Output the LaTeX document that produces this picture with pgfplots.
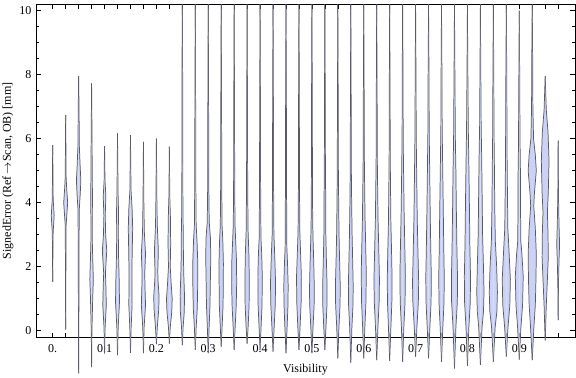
\documentclass[border=0pt]{standalone}
\usepackage{pgfplots}
\pgfplotsset{compat=1.18}
\usepackage{fontspec}
\setmainfont{Liberation Serif}
\definecolor{vfill}{RGB}{203,210,245}
\definecolor{vedge}{RGB}{90,90,100}
\newcommand{\violin}[2]{%
  \addplot[fill=vfill, draw=vedge, line width=0.55pt] table[x expr=#1+\thisrow{w}*0.085, y=y, row sep=\\]{y w\\ #2};
  \addplot[fill=vfill, draw=vedge, line width=0.55pt] table[x expr=#1-\thisrow{w}*0.085, y=y, row sep=\\]{y w\\ #2};
}
\begin{document}
\begin{tikzpicture}
\begin{axis}[
  at={(0,0)}, anchor=south west,
  scale only axis, width=404.25pt, height=249.75pt,
  xmin=-1.29, xmax=40.3, ymin=-0.206, ymax=10.2,
  clip=false,
  axis line style={line width=0.6pt},
  font=\fontsize{9}{10}\selectfont,
  /pgf/number format/assume math mode=true,
  xtick={0,1,...,39},
  xticklabels={0.,,,,0.1,,,,0.2,,,,0.3,,,,0.4,,,,0.5,,,,0.6,,,,0.7,,,,0.8,,,,0.9,,,},
  ytick={0,2,4,6,8,10},
  minor ytick={0.5,1,...,9.5},
  major tick length=3.6pt, minor tick length=2.2pt,
  tick style={black, line width=0.5pt},
  xticklabel style={yshift=-1.5pt},
  xlabel={Visibility},
  ylabel={SignedError (Ref\,$\rightarrow$Scan, OB) [mm]},
  xlabel style={at={(axis description cs:0.5,-0.098)}, anchor=center},
  ylabel style={at={(axis description cs:-0.052,0.5)}, anchor=center},
]
\violin{0}{1.53 0\\2.5 0.2\\3.1 0.4\\3.35 0.9\\3.6 1.3\\3.85 0.9\\4.1 0.4\\5.0 0.2\\5.8 0\\}
\violin{1}{0.04 0\\2.0 0.2\\3.3 0.4\\3.6 1.0\\4.0 1.8\\4.4 1.0\\4.8 0.4\\5.8 0.2\\6.74 0\\}
\violin{2}{-1.33 0\\0 0.2\\2.5 0.3\\3.8 0.6\\4.3 1.5\\4.7 2.0\\5.2 1.3\\5.8 0.6\\6.8 0.4\\7.96 0\\}
\violin{3}{-1.14 0\\0 0.3\\1.0 1.0\\1.6 1.6\\2.3 1.0\\3.0 0.5\\4.2 0.8\\4.8 0.6\\6.0 0.4\\7.73 0\\}
\violin{4}{-0.71 0\\0.1 0.5\\0.8 1.6\\1.4 1.2\\1.8 0.8\\2.5 2.0\\3.0 1.0\\3.6 0.6\\4.2 1.2\\4.7 0.4\\5.77 0\\}
\violin{5}{-0.76 0\\0.1 0.6\\0.9 1.8\\1.6 1.5\\2.4 0.9\\3.2 0.7\\3.6 1.0\\4.3 0.5\\6.17 0\\}
\violin{6}{-0.69 0\\0.1 0.6\\0.8 1.5\\1.8 1.3\\2.5 1.6\\3.2 2.0\\3.8 1.5\\4.4 0.5\\6.11 0\\}
\violin{7}{-0.7 0\\0.1 0.6\\0.8 1.9\\1.4 1.4\\1.8 1.2\\2.4 1.9\\3.1 0.8\\4.0 0.4\\5.9 0\\}
\violin{8}{-0.42 0\\0.1 0.8\\0.7 2.2\\1.1 2.4\\1.6 1.4\\1.9 1.3\\2.5 1.8\\3.3 0.8\\4.2 0.4\\6.0 0\\}
\violin{9}{-0.4 0\\0.1 0.8\\0.6 2.2\\1.0 2.6\\1.5 1.6\\2.0 0.8\\2.7 1.2\\3.5 1.0\\4.2 0.4\\5.75 0\\}
\violin{10}{-0.45 0\\0.1 0.7\\0.6 1.8\\1.1 2.0\\1.7 1.4\\2.3 1.0\\3.0 0.9\\3.6 0.6\\5 0.4\\8 0.3\\10.2 0\\}
\violin{11}{-0.6 0\\0.1 0.8\\0.7 1.8\\1.4 2.2\\2.1 2.3\\2.8 1.6\\3.3 0.8\\4.5 0.5\\7 0.35\\10.2 0\\}
\violin{12}{-0.7 0\\0.1 0.8\\0.8 1.6\\1.5 1.9\\2.3 2.3\\2.9 2.0\\3.4 0.9\\4.5 0.5\\7 0.35\\10.2 0\\}
\violin{13}{-0.5 0\\0.1 0.8\\0.8 1.7\\1.5 1.9\\2.1 2.0\\2.8 1.5\\3.3 0.8\\4.5 0.5\\7 0.35\\10.2 0\\}
\violin{14}{-0.6 0\\0.1 0.9\\0.8 1.9\\1.5 2.3\\2.2 2.1\\2.8 1.4\\3.3 0.8\\4.5 0.5\\7 0.35\\10.2 0\\}
\violin{15}{-0.4 0\\0.1 0.9\\0.8 1.8\\1.6 2.0\\2.4 1.6\\3.1 0.9\\4.5 0.5\\7 0.35\\10.2 0\\}
\violin{16}{-0.6 0\\0.1 0.9\\0.8 1.8\\1.7 2.0\\2.4 1.5\\2.9 0.8\\4.5 0.5\\7 0.35\\10.2 0\\}
\violin{17}{-0.65 0\\0.1 1.0\\0.8 2.0\\1.5 2.3\\2.3 1.6\\3.0 0.8\\4.5 0.5\\7 0.35\\10.2 0\\}
\violin{18}{-0.7 0\\0.1 1.0\\0.8 1.8\\1.4 2.0\\2.1 1.4\\2.6 0.8\\4.5 0.5\\7 0.35\\10.2 0\\}
\violin{19}{-0.6 0\\0.1 1.0\\0.9 2.0\\1.7 2.2\\2.5 1.4\\3.1 0.8\\4.5 0.5\\7 0.35\\10.2 0\\}
\violin{20}{-0.7 0\\0.1 1.0\\0.8 2.0\\1.3 2.2\\2.1 1.7\\2.9 1.0\\3.5 0.7\\4.5 0.5\\7 0.35\\10.2 0\\}
\violin{21}{-0.6 0\\0.1 1.0\\0.8 1.9\\1.4 2.0\\2.2 1.4\\3.0 0.9\\4.0 0.8\\5 0.5\\7 0.35\\10.2 0\\}
\violin{22}{-0.86 0\\0.1 1.0\\0.8 2.0\\1.4 2.2\\2.2 1.6\\3.0 1.1\\3.9 0.8\\5 0.5\\7 0.35\\10.2 0\\}
\violin{23}{-1.0 0\\0.1 1.0\\0.8 2.0\\1.4 2.2\\2.2 1.7\\3.0 1.2\\4.0 0.8\\5 0.5\\7 0.35\\10.2 0\\}
\violin{24}{-0.86 0\\0.1 1.0\\0.9 2.0\\1.8 2.3\\2.6 1.8\\3.5 1.2\\4.6 0.8\\5.5 0.5\\7.5 0.35\\10.2 0\\}
\violin{25}{-0.92 0\\0.1 1.1\\0.9 2.2\\1.6 2.5\\2.5 1.9\\3.5 1.2\\4.6 0.8\\5.5 0.5\\7.5 0.35\\10.2 0\\}
\violin{26}{-0.94 0\\0.1 1.1\\0.9 2.0\\1.6 2.2\\2.5 1.7\\3.4 1.1\\4.4 0.8\\5.5 0.5\\7.5 0.35\\10.2 0\\}
\violin{27}{-0.97 0\\0.1 1.1\\0.9 2.2\\1.7 2.5\\2.6 2.0\\3.6 1.4\\4.9 0.9\\6 0.5\\8 0.35\\10.2 0\\}
\violin{28}{-0.81 0\\0.1 1.2\\0.9 2.5\\1.5 2.8\\2.4 2.2\\3.5 1.5\\4.9 1.0\\6 0.6\\8 0.35\\10.2 0\\}
\violin{29}{-0.86 0\\0.1 1.2\\0.9 2.3\\1.7 2.5\\2.6 2.0\\3.7 1.5\\5.1 1.0\\6.2 0.6\\8 0.4\\10.2 0\\}
\violin{30}{-0.97 0\\0.1 1.2\\0.9 2.3\\1.7 2.5\\2.7 2.0\\3.8 1.6\\5.3 1.0\\6.3 0.6\\8 0.4\\10.2 0\\}
\violin{31}{-1.18 0\\0.1 1.3\\0.9 2.6\\1.6 2.8\\2.6 2.2\\3.8 1.7\\5.0 1.3\\6.0 0.8\\8 0.4\\10.2 0\\}
\violin{32}{-1.1 0\\0.1 1.3\\0.9 2.6\\1.7 2.8\\2.7 2.2\\3.9 1.8\\5.2 1.3\\6.3 0.8\\8 0.4\\10.2 0\\}
\violin{33}{-1.07 0\\0.1 1.5\\0.6 2.8\\1.2 3.3\\2.0 2.8\\3.0 2.0\\4.2 1.6\\5.4 1.2\\6.4 0.7\\8 0.4\\10.2 0\\}
\violin{34}{-0.97 0\\0.1 1.6\\0.6 3.2\\1.2 3.7\\2.0 3.0\\2.8 1.8\\3.8 1.3\\5.0 1.0\\6.2 0.6\\8 0.4\\10.2 0\\}
\violin{35}{-0.81 0\\0.1 1.5\\0.8 3.2\\1.6 3.7\\2.4 2.6\\3.2 1.4\\4.4 1.0\\5.5 0.7\\8 0.4\\10.2 0\\}
\violin{36}{-0.9 0\\0.1 1.5\\0.8 3.0\\1.7 3.6\\2.4 2.4\\2.8 1.4\\3.6 1.2\\4.6 1.2\\5.6 0.8\\7 0.5\\8.5 0.3\\10.0 0\\}
\violin{37}{-0.92 0\\0.1 1.5\\0.8 2.8\\1.6 3.4\\2.4 3.7\\3.2 2.8\\3.9 1.4\\4.3 2.0\\5.0 3.7\\5.5 2.8\\6.0 1.2\\7 0.6\\8.5 0.4\\10.2 0\\}
\violin{38}{-0.3 0\\0 0.3\\0.8 1.0\\1.6 2.0\\2.3 2.8\\3.0 2.6\\3.7 2.0\\4.3 2.8\\5.3 3.5\\6.2 2.6\\6.9 1.0\\7.96 0\\}
\violin{39}{0.33 0\\1.5 0.3\\2.2 0.8\\2.7 1.3\\3.3 0.8\\4.2 0.3\\5.94 0\\}
\end{axis}
\pgfresetboundingbox
\path[use as bounding box] (-27pt,-29.8pt) rectangle (405pt,253pt);
\end{tikzpicture}
\end{document}
